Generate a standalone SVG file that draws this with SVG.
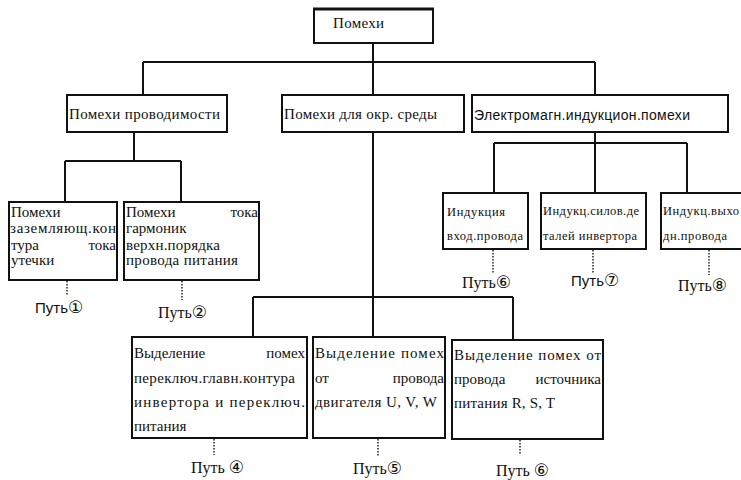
<svg xmlns="http://www.w3.org/2000/svg" width="741" height="480" viewBox="0 0 741 480">
<style>
.box{fill:#fff;stroke:#111;stroke-width:2}
.ln{fill:none;stroke:#111;stroke-width:2}
.dot{fill:none;stroke:#222;stroke-width:1.5;stroke-dasharray:1.5 1.5}
.s{font-family:"Liberation Serif","Times New Roman",serif;fill:#111}
.a{font-family:"Liberation Sans",Arial,sans-serif;fill:#111}
.t16{font-size:16px}
.t15{font-size:15px}
.t14{font-size:14px}
.t12{font-size:12.5px}
.e{text-anchor:end}
.c{font-family:"DejaVu Sans",sans-serif;font-size:17px}
</style>
<rect width="741" height="480" fill="#fff"/>
<g id="connectors">
<path class="ln" d="M373 43V95M143 62H595M143 62V95M595 62V95"/>
<path class="ln" d="M134 132V161M65 161H181M65 161V202M181 161V202"/>
<path class="ln" d="M595 132V143M494 143H687M494 143V193M595 143V193M687 143V193"/>
<path class="ln" d="M373 132V337M253 297H513M253 297V337M513 297V340"/>
<path class="dot" d="M67 281V296M182 281V300M493 250V273M593 250V273M709 250V275M214 439V455M378 439V456M520 440V455"/>
</g>
<g id="root">
<rect class="box" x="314" y="9" width="119" height="34"/>
<line x1="313" y1="9" x2="434" y2="9" stroke="#111" stroke-width="3"/>
<text class="s t15" x="333" y="28" textLength="51">Помехи</text>
</g>
<g id="n-conduct">
<rect class="box" x="67" y="95" width="160" height="37"/>
<text class="s t15" x="69" y="119" textLength="151">Помехи проводимости</text>
</g>
<g id="n-env">
<rect class="box" x="282" y="95" width="182" height="37"/>
<text class="s t15" x="284" y="119" textLength="153">Помехи для окр. среды</text>
</g>
<g id="n-em">
<rect class="box" x="472" y="95" width="256" height="37"/>
<text class="a t14" x="474" y="120" textLength="216">Электромагн.индукцион.помехи</text>
</g>
<g id="n-ground">
<rect class="box" x="9" y="202" width="108" height="78"/>
<text class="s t15" x="11" y="217">Помехи</text>
<text class="s t15" x="10" y="233" textLength="106">заземляющ.кон</text>
<text class="s t15" x="11" y="250">тура</text>
<text class="s t15 e" x="116" y="250">тока</text>
<text class="s t15" x="11" y="265">утечки</text>
</g>
<g id="n-harm">
<rect class="box" x="124" y="202" width="135" height="78"/>
<text class="s t15" x="126" y="217">Помехи</text>
<text class="s t15 e" x="258" y="217">тока</text>
<text class="s t15" x="126" y="233">гармоник</text>
<text class="s t15" x="126" y="250" textLength="94">верхн.порядка</text>
<text class="s t15" x="126" y="265" textLength="112">провода питания</text>
</g>
<g id="n-ind-in">
<rect class="box" x="443" y="193" width="85" height="56"/>
<text class="s t12" x="447" y="216" textLength="58">Индукция</text>
<text class="s t12" x="447" y="240" textLength="76">вход.провода</text>
</g>
<g id="n-ind-pow">
<rect class="box" x="541" y="193" width="105" height="56"/>
<text class="s t12" x="543" y="215" textLength="96">Индукц.силов.де</text>
<text class="s t12" x="543" y="240" textLength="94">талей инвертора</text>
</g>
<g id="n-ind-out">
<rect class="box" x="661" y="193" width="82" height="56"/>
<text class="s t12" x="663" y="215" textLength="76">Индукц.выхо</text>
<text class="s t12" x="663" y="240" textLength="64">дн.провода</text>
</g>
<g id="n-sw">
<rect class="box" x="132" y="337" width="175" height="101"/>
<text class="s t15" x="134" y="358">Выделение</text>
<text class="s t15 e" x="305" y="358">помех</text>
<text class="s t15" x="134" y="383" textLength="161">переключ.главн.контура</text>
<text class="s t15" x="134" y="407" textLength="171">инвертора  и  переключ.</text>
<text class="s t15" x="134" y="431">питания</text>
</g>
<g id="n-motor">
<rect class="box" x="313" y="337" width="132" height="101"/>
<text class="s t15" x="315" y="358" textLength="129">Выделение помех</text>
<text class="s t15" x="315" y="383">от</text>
<text class="s t15 e" x="444" y="383">провода</text>
<text class="s t15" x="315" y="407" textLength="122">двигателя U, V, W</text>
</g>
<g id="n-supply">
<rect class="box" x="452" y="340" width="151" height="99"/>
<text class="s t15" x="454" y="360" textLength="147">Выделение помех от</text>
<text class="s t15" x="454" y="384">провода</text>
<text class="s t15 e" x="601" y="384">источника</text>
<text class="s t15" x="454" y="408" textLength="101">питания R, S, T</text>
</g>
<g id="paths">
<text class="a t15" x="35" y="313">Путь<tspan class="c">①</tspan></text>
<text class="s t16" x="158" y="318">Путь<tspan class="c">②</tspan></text>
<text class="s t16" x="462" y="288">Путь<tspan class="c">⑥</tspan></text>
<text class="a t15" x="571" y="286">Путь<tspan class="c">⑦</tspan></text>
<text class="s t16" x="678" y="291">Путь<tspan class="c">⑧</tspan></text>
<text class="s t16" x="191" y="473">Путь <tspan class="c">④</tspan></text>
<text class="s t16" x="353" y="474">Путь<tspan class="c">⑤</tspan></text>
<text class="s t16" x="496" y="476">Путь <tspan class="c">⑥</tspan></text>
</g>
</svg>
